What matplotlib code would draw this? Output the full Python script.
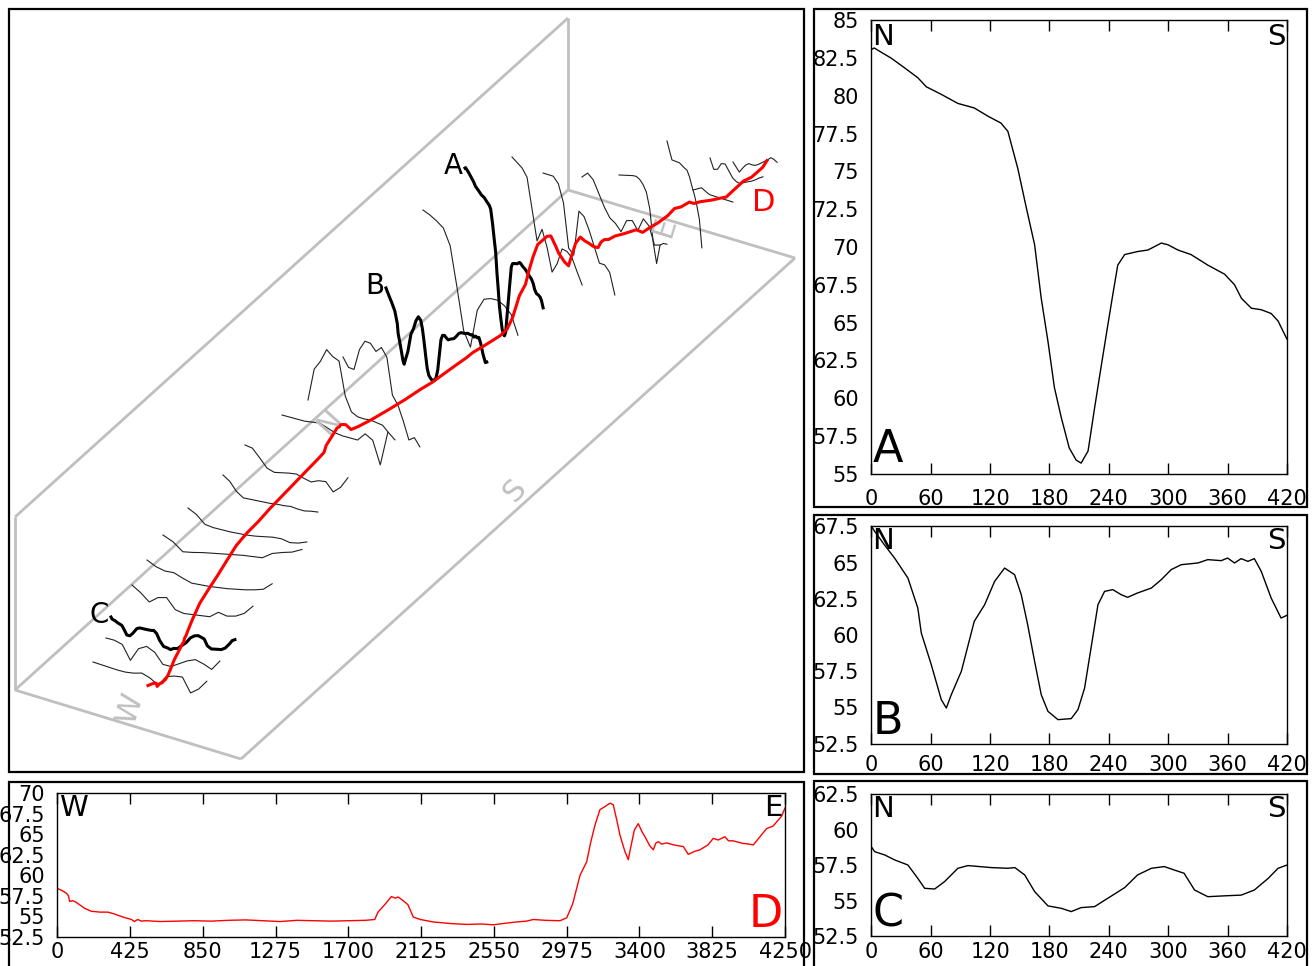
import numpy as np
import matplotlib.pyplot as plt
from matplotlib.patches import Rectangle

plt.rcParams['font.family'] = ['DejaVu Sans']

# ---- long profile D (W -> E), distance / elevation
d_dist = [0, 30, 53, 65, 72, 91, 110, 160, 199, 250, 296, 330, 355, 400, 433, 450, 470, 491,
          520, 600, 700, 800, 900, 1000, 1100, 1200, 1300, 1400, 1500, 1600, 1700, 1800, 1854,
          1873, 1912, 1951, 1975, 1990, 2020, 2048, 2079, 2120, 2196, 2300, 2391, 2480, 2546,
          2620, 2683, 2740, 2780, 2850, 2936, 2975, 3010, 3053, 3092, 3115, 3140, 3169, 3200,
          3228, 3247, 3270, 3286, 3315, 3335, 3344, 3370, 3393, 3415, 3432, 3460, 3481, 3495,
          3510, 3530, 3559, 3600, 3656, 3685, 3720, 3753, 3800, 3831, 3860, 3899, 3920, 3948,
          4000, 4040, 4065, 4100, 4143, 4180, 4201, 4230, 4250]
d_elev = [58.4, 58.1, 57.8, 57.5, 56.8, 56.9, 56.7, 55.96, 55.6, 55.5, 55.5, 55.3, 55.1, 54.8,
          54.6, 54.35, 54.6, 54.4, 54.45, 54.35, 54.4, 54.45, 54.4, 54.5, 54.55, 54.45, 54.35,
          54.5, 54.45, 54.4, 54.45, 54.5, 54.6, 55.5, 56.4, 57.4, 57.2, 57.35, 56.9, 56.4, 54.9,
          54.6, 54.3, 54.1, 54.0, 54.05, 53.95, 54.15, 54.3, 54.4, 54.6, 54.5, 54.45, 54.8, 56.5,
          60.0, 61.65, 64.0, 66.1, 68.0, 68.4, 68.8, 68.6, 66.5, 64.9, 62.9, 61.9, 62.9, 65.5,
          66.3, 65.3, 64.7, 63.6, 63.1, 63.9, 64.1, 63.8, 63.95, 63.7, 63.5, 62.55, 62.9, 63.1,
          63.7, 64.5, 64.3, 64.7, 64.2, 64.2, 63.9, 63.8, 63.7, 64.6, 65.7, 66.0, 66.5, 67.2, 68.2]

# ---- cross profiles A, B, C (N -> S)
a_dist = [0, 3, 8.4, 20, 33.7, 47, 55.6, 70.7, 87.5, 104, 118, 131, 138, 148, 156.6, 165, 171.7,
          178.5, 185, 192, 200, 207, 212, 219, 225.6, 232, 239, 244, 249, 256, 269, 279.5, 293,
          299.7, 309.8, 323, 340, 357, 367, 374, 384, 394, 404, 411, 420]
a_elev = [83.06, 83.17, 82.95, 82.5, 81.85, 81.2, 80.6, 80.1, 79.5, 79.2, 78.65, 78.2, 77.65,
          75.2, 72.6, 70.15, 66.6, 63.75, 60.7, 58.7, 56.7, 55.9, 55.7, 56.5, 59.35, 62.0, 64.85,
          66.85, 68.8, 69.5, 69.7, 69.8, 70.26, 70.15, 69.8, 69.5, 68.8, 68.2, 67.5, 66.6, 65.95,
          65.85, 65.6, 65.1, 63.9]
b_dist = [0, 3.4, 13.5, 23.6, 37, 47, 50.5, 60.6, 70.7, 75.8, 80.8, 91, 104, 114.5, 124.6,
          134.7, 144.8, 151.5, 158, 165, 171.7, 178.5, 188.6, 202, 208.8, 215.5, 222, 229,
          235.7, 244, 252.5, 259, 269, 283, 293, 303, 313, 330, 340, 353.5, 360, 367, 373.7,
          380.5, 387, 394, 404, 414, 420]
b_elev = [67.5, 67.15, 66.2, 65.3, 63.93, 61.86, 60.14, 57.95, 55.54, 54.96, 55.88, 57.5, 60.94,
          62.09, 63.7, 64.62, 64.16, 62.78, 60.71, 58.18, 55.88, 54.73, 54.16, 54.23, 54.85,
          56.34, 59.1, 62.09, 63.01, 63.13, 62.78, 62.6, 62.9, 63.24, 63.82, 64.51, 64.85,
          64.97, 65.2, 65.13, 65.31, 64.97, 65.27, 65.08, 65.27, 64.39, 62.55, 61.17, 61.36]
c_dist = [0, 3.4, 13.5, 23.6, 37, 47, 53.9, 64, 74, 87.5, 97.6, 121, 138, 145, 155, 165, 178.5,
          192, 202, 212, 225.6, 239, 256, 269, 283, 296, 306, 316, 326.6, 340, 360, 373.7, 387,
          401, 411, 420]
c_elev = [58.81, 58.46, 58.23, 57.88, 57.52, 56.58, 55.88, 55.83, 56.35, 57.29, 57.48, 57.34,
          57.29, 57.34, 56.82, 55.65, 54.64, 54.47, 54.24, 54.52, 54.59, 55.18, 55.93, 56.82,
          57.29, 57.41, 57.17, 56.94, 55.76, 55.29, 55.36, 55.4, 55.76, 56.58, 57.29, 57.52]

# ---- the other cross sections of the block diagram, sampled every 30 m
n_grid = np.arange(0, 421, 30)
thin_elev = [
    [58.0, 57.7, 57.4, 57.1, 56.9, 56.9, 57.1, 56.4, 55.3, 57.0, 57.3, 57.3, 54.6, 55.5, 57.1],
    [58.5, 58.3, 57.7, 55.0, 57.3, 57.9, 57.0, 55.0, 54.8, 55.5, 56.2, 56.6, 56.0, 55.2, 56.9],
    [59.5, 58.3, 56.8, 57.8, 58.0, 56.0, 55.5, 55.5, 55.5, 55.5, 56.5, 56.0, 56.2, 56.9, 58.4],
    [60.0, 59.0, 58.4, 58.3, 57.5, 56.8, 56.7, 56.6, 56.6, 56.6, 56.7, 56.8, 57.0, 57.3, 58.5],
    [60.5, 59.5, 57.9, 58.0, 58.2, 58.3, 58.4, 58.5, 58.6, 58.6, 58.6, 59.6, 60.0, 60.3, 61.0],
    [61.0, 60.0, 58.4, 58.0, 57.8, 57.6, 57.5, 57.4, 57.4, 57.5, 57.6, 57.5, 57.0, 57.1, 57.5],
    [61.5, 60.5, 58.8, 57.8, 57.7, 57.6, 57.5, 57.4, 57.4, 57.3, 57.3, 57.0, 56.8, 56.9, 56.9],
    [62.0, 61.6, 60.0, 58.3, 57.7, 57.8, 57.9, 57.9, 57.3, 56.8, 57.2, 57.2, 55.5, 56.5, 58.4],
    [62.0, 61.8, 61.6, 61.4, 61.4, 61.4, 60.7, 60.0, 59.6, 59.4, 59.2, 60.5, 59.5, 55.2, 61.3],
    [62.0, 68.0, 69.8, 72.3, 71.4, 71.0, 65.0, 62.5, 62.0, 62.0, 62.2, 62.1, 62.0, 61.0, 60.1],
    [65.0, 63.5, 63.5, 67.5, 69.4, 69.4, 68.3, 69.4, 68.0, 61.5, 60.1, 57.5, 54.5, 55.3, 54.0],
    [80.0, 79.6, 79.0, 78.2, 75.5, 68.5, 61.0, 58.5, 65.7, 68.2, 68.8, 69.0, 68.5, 67.4, 64.1],
    [82.0, 81.5, 81.0, 79.8, 74.5, 69.2, 71.8, 69.0, 65.0, 67.0, 70.2, 70.2, 69.5, 67.5, 65.6],
    [78.0, 78.2, 78.4, 77.5, 74.5, 66.8, 66.0, 74.5, 74.0, 72.0, 69.5, 67.0, 67.2, 66.3, 62.7],
    [75.0, 76.2, 75.5, 73.5, 71.5, 70.0, 69.5, 68.5, 71.0, 71.5, 70.2, 72.8, 72.0, 69.0, 69.5],
    [77.0, 77.3, 77.6, 77.9, 78.2, 78.4, 78.2, 77.6, 76.5, 73.8, 68.0, 64.5, 68.2, 68.8, 69.0],
    [80.0, 78.5, 77.1, 77.2, 77.3, 77.4, 77.2, 77.0, 76.9, 76.0, 74.5, 73.2, 71.5, 69.3, 64.4],
    [66.0, 66.3, 66.6, 66.9, 66.6, 66.3, 66.1, 66.1, 66.1, 66.1, 66.1, 66.1, 66.1, 66.1, 66.1],
    [70.0, 68.2, 68.5, 69.8, 70.0, 69.0, 68.0, 67.6, 67.5, 68.0, 68.4, 68.8, 69.3, 69.9, 70.4],
    [70.0, 69.3, 68.6, 69.5, 70.3, 70.8, 70.8, 70.9, 71.3, 71.8, 72.3, 72.8, 73.4, 73.3, 73.0],
]

# ---- block diagram layout (panel pixels): start point, x and y step per metre
thin_place = [(93, 662, 0.271, 0.034), (106, 638, 0.271, 0.034), (132, 585, 0.288, 0.036),
              (147, 560, 0.298, 0.037), (163, 535, 0.331, 0.041), (188, 508, 0.283, 0.035),
              (223, 475, 0.226, 0.028), (245, 445, 0.245, 0.031), (282, 415, 0.252, 0.032),
              (308, 400, 0.207, 0.070), (343, 357, 0.183, 0.070), (423, 210, 0.226, 0.090),
              (512, 157, 0.167, 0.090), (543, 173, 0.171, 0.090), (582, 177, 0.186, 0.090),
              (619, 175, 0.114, 0.060), (667, 141, 0.083, 0.050), (693, 190, 0.095, 0.030),
              (710, 158, 0.126, 0.050), (733, 162, 0.105, 0.040)]
bold_place = {'A': (465, 168, 0.186, 0.082), 'B': (386, 288, 0.240, 0.096),
              'C': (111, 617, 0.295, 0.037)}
z_scale = 5.5
# valley floor path of D in the panel (distance, x, y)
path_s = [0, 118, 668, 1140, 1631, 1879, 1950, 2050, 2975, 3228, 3481, 3870, 4250]
path_x = [148, 163, 197, 240, 297, 327, 337, 346, 507, 547, 598, 683, 767]
path_y = [707, 694, 607, 540, 480, 450, 444, 435, 331, 315, 295, 260, 236]
z_ref = 54.5

W, H = 1313, 966
fig = plt.figure(figsize=(W / 100, H / 100), dpi=100)


def rect(x0, y0, x1, y1):
    return [x0 / W, 1 - y1 / H, (x1 - x0) / W, (y1 - y0) / H]


def frame(x0, y0, x1, y1):
    fig.add_artist(Rectangle((x0 / W, 1 - y1 / H), (x1 - x0) / W, (y1 - y0) / H,
                             transform=fig.transFigure, fill=False, lw=1.6, ec='black'))


# ---------------- block diagram
ax3 = fig.add_axes(rect(9, 9, 804, 772))
ax3.set_xlim(9, 804)
ax3.set_ylim(772, 9)
ax3.axis('off')
grey = '#bfbfbf'
box = [((15, 517), (568, 18)), ((15, 517), (15, 690)), ((568, 18), (568, 190)),
       ((15, 690), (568, 190)), ((15, 690), (241, 759)), ((241, 759), (795, 258)),
       ((568, 190), (795, 258))]
for (xa, ya), (xb, yb) in box:
    ax3.plot([xa, xb], [ya, yb], color=grey, lw=2, solid_capstyle='butt', zorder=1)
for lab, x, y, rot in [('W', 130, 708, 73), ('N', 330, 422, 48), ('S', 515, 490, 48),
                       ('E', 665, 226, 73)]:
    ax3.text(x, y, lab, color=grey, fontsize=22, rotation=rot, ha='center', va='center')


def place(n, z, x0, y0, dx, dy):
    n = np.asarray(n, float)
    z = np.asarray(z, float)
    return x0 + n * dx, y0 + n * dy - (z - z[0]) * z_scale


for z, p in zip(thin_elev, thin_place):
    px, py = place(n_grid, z, *p)
    ax3.plot(px, py, color='#222222', lw=0.8, zorder=2)

for lab, (nn, zz) in {'A': (a_dist, a_elev), 'B': (b_dist, b_elev), 'C': (c_dist, c_elev)}.items():
    px, py = place(nn, zz, *bold_place[lab])
    ax3.plot(px, py, color='black', lw=2.2, zorder=3)
    ax3.text(px[0] - 2, py[0] - 2, lab, fontsize=20, ha='right', va='center')

rx = np.interp(d_dist, path_s, path_x)
ry = np.interp(d_dist, path_s, path_y) - (np.array(d_elev) - z_ref) * z_scale
ax3.plot(rx, ry, color='red', lw=2.2, zorder=4)
ax3.text(rx[-1] - 3, ry[-1] + 42, 'D', color='red', fontsize=22, ha='center', va='center')

# ---------------- profile panels
frame(9, 9, 804, 772)
frame(814, 9, 1307, 507)
frame(814, 515, 1307, 774)
frame(814, 781, 1307, 990)
frame(9, 782, 804, 990)


def panel(r, x, y, color, xlim, ylim, xt, yt, left, right, xpad=11):
    ax = fig.add_axes(r)
    ax.plot(x, y, color=color, lw=1.0)
    ax.set_xlim(*xlim)
    ax.set_ylim(*ylim)
    ax.set_xticks(xt)
    ax.set_yticks(yt)
    ax.set_yticklabels([f'{v:g}' for v in yt])
    ax.tick_params(axis='x', direction='in', length=8, width=1, top=True, labelsize=15, pad=xpad)
    ax.tick_params(axis='y', length=0, labelsize=15, pad=9)
    for s in ax.spines.values():
        s.set_linewidth(1)
    ax.text(0.003, 0.995, left, transform=ax.transAxes, fontsize=21, ha='left', va='top')
    ax.text(0.997, 0.995, right, transform=ax.transAxes, fontsize=21, ha='right', va='top')
    return ax


xt = list(range(0, 421, 60))
axa = panel(rect(871.3, 20.3, 1287, 473.7), a_dist, a_elev, 'black', (0, 420), (55, 85), xt,
            np.arange(55, 85.1, 2.5), 'N', 'S')
axa.text(0.003, 0.005, 'A', transform=axa.transAxes, fontsize=32, ha='left', va='bottom')
axb = panel(rect(871.3, 526.3, 1287, 743.7), b_dist, b_elev, 'black', (0, 420), (52.5, 67.5), xt,
            np.arange(52.5, 67.6, 2.5), 'N', 'S', xpad=8)
axb.text(0.003, 0.005, 'B', transform=axb.transAxes, fontsize=32, ha='left', va='bottom')
axc = panel(rect(871.3, 794.3, 1287, 936.3), c_dist, c_elev, 'black', (0, 420), (52.5, 62.5), xt,
            np.arange(52.5, 62.6, 2.5), 'N', 'S', xpad=4)
axc.text(0.003, 0.005, 'C', transform=axc.transAxes, fontsize=32, ha='left', va='bottom')
axd = panel(rect(57.3, 793.3, 785, 936.7), d_dist, d_elev, 'red', (0, 4250), (52.5, 70),
            list(range(0, 4251, 425)), np.arange(52.5, 70.1, 2.5), 'W', 'E', xpad=4)
axd.text(0.997, 0.005, 'D', transform=axd.transAxes, fontsize=32, color='red', ha='right',
         va='bottom')

fig.savefig('out.png', dpi=100)
